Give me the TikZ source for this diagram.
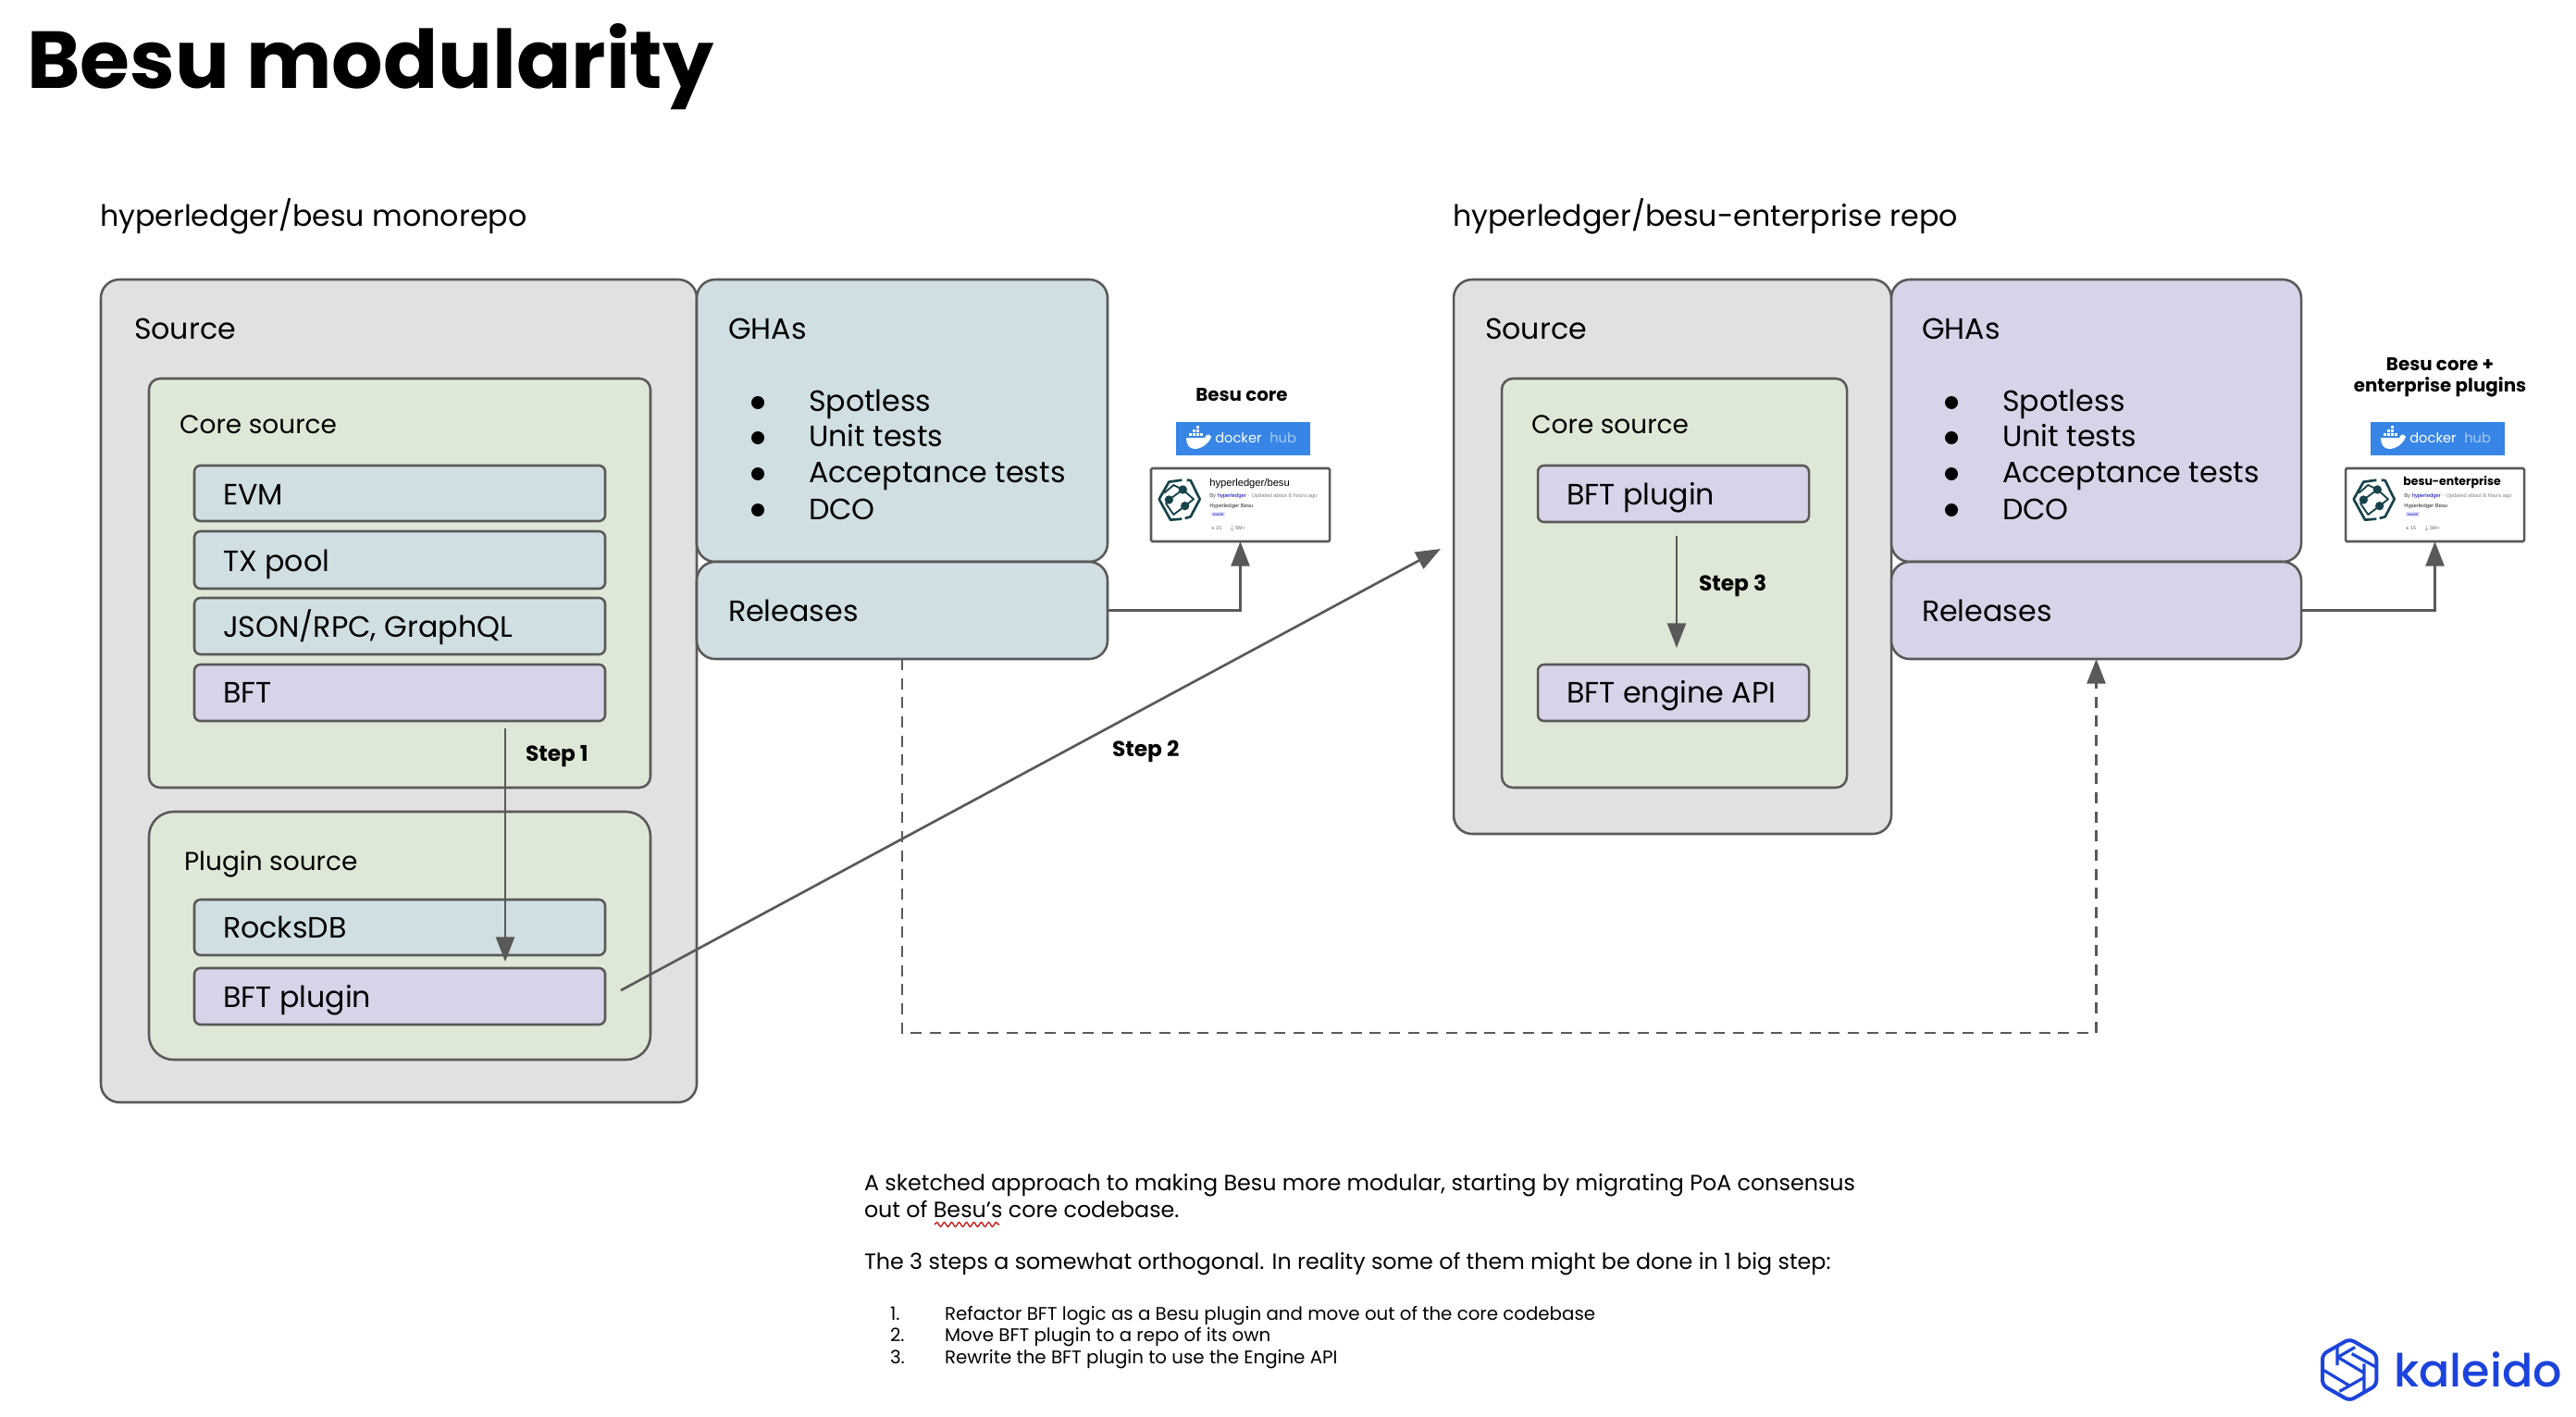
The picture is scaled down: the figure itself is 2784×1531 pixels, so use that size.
\documentclass[tikz,border=0pt]{standalone}
\usepackage{fontspec}
\setmainfont{Poppins}
\newfontfamily\popmed{Poppins}[UprightFont={* Medium}]
\newfontfamily\cardfont{Liberation Sans}
\usetikzlibrary{arrows.meta,decorations.pathmorphing}
\definecolor{greybox}{HTML}{E1E1E1}
\definecolor{greenbox}{HTML}{DEE8D6}
\definecolor{bluebox}{HTML}{D0DFE3}
\definecolor{purplebox}{HTML}{D8D3E8}
\definecolor{edge}{HTML}{595959}
\definecolor{dockerblue}{HTML}{3785E6}
\definecolor{hubtxt}{HTML}{A9CBF5}
\definecolor{teal}{HTML}{17434B}
\definecolor{kal}{HTML}{1C44DC}
\newcommand\fs[1]{\fontsize{#1pt}{#1pt}\selectfont}
\tikzset{
  x=0.75pt,y=-0.75pt,
  box/.style={draw=edge,line width=1.9pt,outer sep=0pt,inner sep=0pt},
  lab/.style={anchor=base west,inner sep=0pt,outer sep=0pt,text=black},
  hdr/.style={lab,font=\fs{23.8}},
  bigl/.style={lab,font=\fs{23.8}},
  corel/.style={lab,font=\fs{21}},
  iteml/.style={lab,font=\fs{23.8}},
  stepl/.style={anchor=base west,inner sep=0pt,outer sep=0pt,font=\bfseries\fs{17.5}},
  para/.style={lab,font=\fs{17.85}},
  lst/.style={lab,font=\fs{14.85}},
  conn/.style={draw=edge,line width=2pt},
  head/.style={-{Triangle[length=20pt,width=15pt]}},
}
\newcommand\bx[6][]{\node[box,#1,minimum width={(#5-#3)*0.75pt},minimum height={(#6-#4)*0.75pt}] (#2) at ({(#3+#5)/2},{(#4+#6)/2}) {};}
\newcommand\bullets[3]{%
  \fill[black] (#1,435) circle[radius=7];
  \fill[black] (#1,473) circle[radius=7];
  \fill[black] (#1,512) circle[radius=7];
  \fill[black] (#1,551) circle[radius=7];
  \node[bigl] (#3a) at (#2,444) {Spotless};
  \node[bigl] (#3b) at (#2,482) {Unit tests};
  \node[bigl] (#3c) at (#2,521) {Acceptance tests};
  \node[bigl] (#3d) at (#2,561) {DCO};
}
% docker hub banner + image card; #1 prefix, #2 x offset, #3 title node
\newcommand\dockercard[3]{%
  \begin{scope}[xshift={#2*0.75pt}]
  \bx[fill=dockerblue,draw=none,rounded corners=0pt]{#1-dh}{1271}{456}{1416}{492}
  \fill[white] (1282,473) -- (1302,473) .. controls (1304,469) and (1306,468) .. (1309,472) .. controls (1306,480) and (1298,485) .. (1291,485) .. controls (1285,485) and (1282,480) .. (1282,473) -- cycle;
  \foreach \a/\b in {1285/468,1289/468,1293/468,1297/468,1289/464,1293/464,1293/460}
    \fill[white] (\a,\b) rectangle ++(3,3);
  \node[anchor=base west,inner sep=0pt,text=white,font=\fs{11}] (#1-dk) at (1313,478) {docker};
  \node[anchor=base west,inner sep=0pt,text=hubtxt,font=\fs{11}] (#1-hb) at (1372,478) {hub};
  \bx[fill=white,rounded corners=1pt]{#1-card}{1244}{506}{1437}{585}
  \begin{scope}[shift={(1240,450)},x=0.25pt,y=-0.25pt]
    \draw[teal,line width=2pt,line join=round] (112,206) -- (70,212) -- (38,268) -- (75,335) -- (112,332);
    \draw[teal,line width=2pt,line join=round] (128,206) -- (140,207) -- (170,268) -- (140,325) -- (122,330);
    \draw[teal,line width=1.4pt,line join=round] (55,248) -- (85,222) -- (115,237) -- (150,268) -- (122,290) -- (85,318) -- (60,282) -- (70,270) -- (115,237);
    \fill[teal] (115,237) circle[radius=14] (70,270) circle[radius=14] (122,290) circle[radius=14];
  \end{scope}
  #3
  \node[anchor=base west,inner sep=0pt,text=black!70,font=\cardfont\fs{4.4}] (#1-by) at (1307,537) {By \textcolor{blue!70!black}{hyperledger}\,\,\textperiodcentered\,\,\textcolor{black!50}{Updated about 8 hours ago}};
  \node[anchor=base west,inner sep=0pt,text=black!85,font=\cardfont\fs{4.4}] (#1-hy) at (1307,548) {Hyperledger Besu};
  \node[anchor=base west,inner sep=1pt,fill=blue!10,text=blue!70!black,font=\cardfont\fs{2.8}] (#1-im) at (1309,557) {IMAGE};
  \node[anchor=base west,inner sep=0pt,text=black!60,font=\cardfont\fs{4.1}] (#1-st) at (1308,572) {\(\star\)\,15};
  \node[anchor=base west,inner sep=0pt,text=black!60,font=\cardfont\fs{4.1}] (#1-dl) at (1329,572) {$\downarrow$\,5M+};
  \end{scope}
}
\begin{document}
\begin{tikzpicture}
\useasboundingbox (0,0) rectangle (2784,1531);
\fill[white] (0,0) rectangle (2784,1531);
% title
\node[lab,font=\bfseries\fs{65.5}] (title) at (29,95) {Besu modularity};
\node[hdr] (h1) at (108,244) {hyperledger/besu monorepo};
\node[hdr] (h2) at (1570,244) {hyperledger/besu-enterprise repo};
% left source
\bx[fill=greybox,rounded corners=15pt]{src1}{109}{302}{753}{1191}
\node[bigl] (src1l) at (145,366) {Source};
\bx[fill=greenbox,rounded corners=9pt]{core1}{161}{409}{703}{851}
\node[corel] (core1l) at (194,468) {Core source};
\bx[fill=bluebox,rounded corners=5pt]{evm}{210}{503}{654}{563}
\node[iteml] (evml) at (241,545) {EVM};
\bx[fill=bluebox,rounded corners=5pt]{txp}{210}{574}{654}{636}
\node[iteml] (txpl) at (241,617) {TX pool};
\bx[fill=bluebox,rounded corners=5pt]{rpc}{210}{646}{654}{707}
\node[iteml] (rpcl) at (241,688) {JSON/RPC, GraphQL};
\bx[fill=purplebox,rounded corners=5pt]{bft}{210}{718}{654}{779}
\node[iteml] (bftl) at (241,759) {BFT};
\bx[fill=greenbox,rounded corners=20pt]{plug1}{161}{877}{703}{1145}
\node[corel] (plug1l) at (199,940) {Plugin source};
\bx[fill=bluebox,rounded corners=5pt]{rock}{210}{972}{654}{1032}
\node[iteml] (rockl) at (241,1013) {RocksDB};
\bx[fill=purplebox,rounded corners=5pt]{bplug}{210}{1046}{654}{1107}
\node[iteml] (bplugl) at (241,1088) {BFT plugin};
% left GHAs
\bx[fill=bluebox,rounded corners=15pt]{gha1}{753}{302}{1197}{607}
\node[bigl] (gha1l) at (787,366) {GHAs};
\bullets{819}{874}{g1}
\bx[fill=bluebox,rounded corners=15pt]{rel1}{753}{607}{1197}{712}
\node[bigl] (rel1l) at (787,671) {Releases};
% right source
\bx[fill=greybox,rounded corners=15pt]{src2}{1571}{302}{2044}{901}
\node[bigl] (src2l) at (1605,366) {Source};
\bx[fill=greenbox,rounded corners=9pt]{core2}{1623}{409}{1996}{851}
\node[corel] (core2l) at (1655,468) {Core source};
\bx[fill=purplebox,rounded corners=5pt]{bplug2}{1662}{503}{1955}{564}
\node[iteml] (bplug2l) at (1693,545) {BFT plugin};
\bx[fill=purplebox,rounded corners=5pt]{eng}{1662}{718}{1955}{779}
\node[iteml] (engl) at (1693,759) {BFT engine API};
% right GHAs
\bx[fill=purplebox,rounded corners=15pt]{gha2}{2044}{302}{2487}{607}
\node[bigl] (gha2l) at (2077,366) {GHAs};
\bullets{2109}{2164}{g2}
\bx[fill=purplebox,rounded corners=15pt]{rel2}{2044}{607}{2487}{712}
\node[bigl] (rel2l) at (2077,671) {Releases};
% docker
\node[anchor=center,inner sep=0pt,font=\bfseries\fs{14.9}] (bc1) at (1342,427) {Besu core};
\dockercard{a}{0}{\node[anchor=base west,inner sep=0pt,font=\cardfont\fs{8.4}] (a-title) at (1307,525) {hyperledger/besu};}
\node[anchor=center,inner sep=0pt,font=\bfseries\fs{14.9}] (bc2a) at (2637,394) {Besu core +};
\node[anchor=center,inner sep=0pt,font=\bfseries\fs{14.9}] (bc2b) at (2637,418) {enterprise plugins};
\dockercard{b}{1291}{\node[anchor=base west,inner sep=0pt,font=\bfseries\fs{9.4}] (b-title) at (1306,524) {besu-enterprise};}
% connectors
\coordinate (s1a) at (546,787);
\coordinate (s1b) at (546,1039);
\draw[conn,head,line width=1.8pt] (s1a) -- (s1b);
\coordinate (s2a) at (671,1070);
\coordinate (s2b) at (1557,593);
\draw[conn,head] (s2a) -- (s2b);
\coordinate (s3a) at (1812,579);
\coordinate (s3b) at (1812,700);
\draw[conn,head] (s3a) -- (s3b);
\draw[conn,head] (rel1.east) -| (a-card.south);
\draw[conn,head] (rel2.east) -| (b-card.south);
\coordinate (dash) at (975,1116);
\draw[conn,head,dash pattern=on 9pt off 6.5pt] (rel1.south) -- (dash) -| (rel2.south);
\node[stepl] (st1) at (568,822) {Step 1};
\node[stepl] (st2) at (1202,817) {Step 2};
\node[stepl] (st3) at (1836,638) {Step 3};
% notes
\node[para] (n1) at (934,1286) {A sketched approach to making Besu more modular, starting by migrating PoA consensus};
\node[para] (n2) at (934,1315) {out of Besu’s core codebase.};
\node[para] (n3) at (934,1371) {The 3 steps a somewhat orthogonal. In reality some of them might be done in 1 big step:};
\coordinate (sqa) at (1010,1323);
\coordinate (sqb) at (1080,1323);
\draw[red!80!black,line width=0.9pt,decorate,decoration={snake,amplitude=1.8pt,segment length=6pt}] (sqa) -- (sqb);
\node[lst] (l1n) at (962,1426) {1.};
\node[lst] (l1) at (1021,1426) {Refactor BFT logic as a Besu plugin and move out of the core codebase};
\node[lst] (l2n) at (962,1449) {2.};
\node[lst] (l2) at (1021,1449) {Move BFT plugin to a repo of its own};
\node[lst] (l3n) at (962,1473) {3.};
\node[lst] (l3) at (1021,1473) {Rewrite the BFT plugin to use the Engine API};
% kaleido logo
\begin{scope}[shift={(2500,1440)},x=0.25pt,y=-0.25pt]
  \draw[kal,line width=3pt,rounded corners=4pt] (118,20) -- (205,70) -- (205,170) -- (118,220) -- (30,170) -- (30,70) -- cycle;
  \draw[kal,line width=2.4pt] (78,45) -- (78,105)
    (78,80) -- (135,47)
    (78,78) -- (165,130)
    (125,68) -- (205,112)
    (165,100) -- (165,195)
    (35,122) -- (115,170)
    (85,190) -- (165,145);
\end{scope}
\node[anchor=base west,inner sep=0pt,text=kal,font=\popmed\fs{36.9}] (kal) at (2587,1498) {kaleido};
\end{tikzpicture}
\end{document}
